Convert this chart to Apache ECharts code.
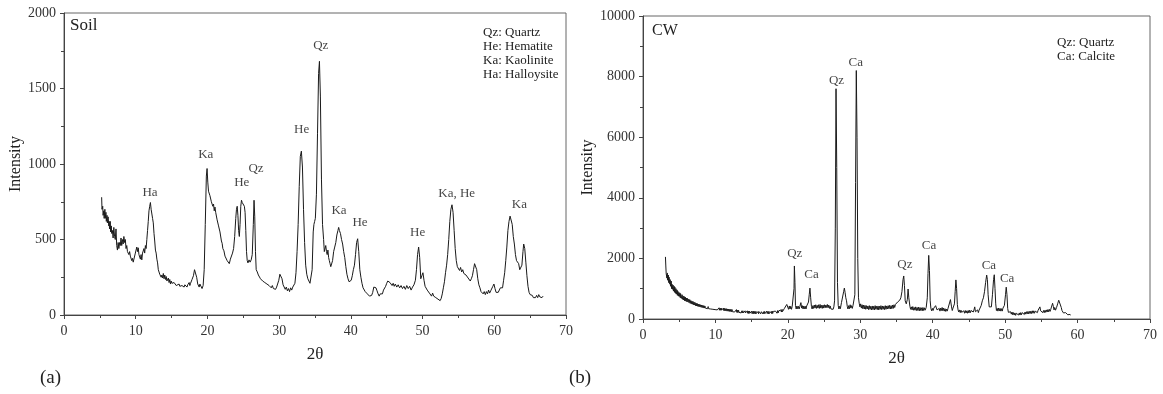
<!DOCTYPE html>
<html>
<head>
<meta charset="utf-8">
<script src="https://cdn.jsdelivr.net/npm/echarts@6/dist/echarts.min.js"></script>
<style>
html,body{margin:0;padding:0;background:#fff;}
#chart{width:1163px;height:394px;}
</style>
</head>
<body>
<div id="chart"></div>
<script>
// ---------- DATA ----------
const xTickLabels = [0,10,20,30,40,50,60,70];

// (a) Soil XRD pattern: [2θ, intensity]
const soilPattern = [
[5.25,780],[5.3,700],[5.4,720],[5.45,660],[5.55,690],[5.6,640],[5.7,700],[5.75,640],[5.85,680],[5.9,620],[6.0,660],[6.05,610],[6.15,650],
[6.25,590],[6.3,620],[6.35,570],[6.45,620],[6.5,550],[6.6,590],[6.65,540],[6.75,560],[6.85,510],[6.95,580],[7.05,520],[7.15,500],
[7.25,570],[7.35,460],[7.45,430],[7.55,480],[7.65,440],[7.75,480],[7.85,460],[7.95,510],[8.05,460],[8.15,500],
[8.25,470],[8.35,520],[8.45,480],[8.55,500],[8.65,440],[8.75,460],[8.85,420],[8.95,430],[9.05,400],[9.15,420],
[9.25,390],[9.35,400],[9.45,360],[9.55,375],[9.65,350],[9.75,370],[9.85,380],[9.95,410],[10.05,420],[10.15,450],
[10.25,420],[10.35,445],[10.45,400],[10.55,410],[10.65,370],[10.75,400],[10.85,365],[10.95,410],[11.05,420],[11.15,440],
[11.25,410],[11.35,460],[11.45,440],[11.55,500],[11.65,560],[11.75,620],[11.85,690],[11.95,720],[12.05,745],[12.15,700],
[12.25,690],[12.35,640],[12.45,610],[12.55,540],[12.65,490],[12.75,430],[12.85,410],[12.95,370],[13.05,345],[13.15,300],
[13.25,290],[13.35,270],[13.45,280],[13.55,250],[13.65,265],[13.75,245],[13.85,275],[13.95,240],[14.05,265],[14.15,235],
[14.25,255],[14.35,225],[14.45,230],[14.55,245],[14.65,215],[14.75,235],[14.85,205],[14.95,225],[15.05,210],[15.15,215],[15.25,200],
[15.35,215],[15.45,205],[15.55,210],[15.65,195],[15.75,205],[15.85,190],[16.05,205],[16.15,190],[16.25,200],[16.35,185],[16.45,195],[16.55,190],[16.65,205],[16.75,185],[16.85,200],[16.95,190],[17.05,210],[17.15,185],[17.25,200],
[17.35,190],[17.45,215],[17.55,195],[17.65,210],[17.75,200],[17.85,235],[18.05,260],[18.2,300],[18.35,310],[18.5,250],[18.65,205],[18.75,215],[18.85,185],[18.95,205],[19.05,195],
[19.15,215],[19.25,175],[19.4,195],[19.55,300],[19.7,600],[19.85,920],[19.95,970],[20.05,880],[20.15,820],[20.25,830],[20.35,790],
[20.45,780],[20.55,750],[20.65,760],[20.75,720],[20.85,735],[20.95,690],[21.05,715],[21.15,680],[21.25,675],[21.35,630],
[21.45,625],[21.55,590],[21.65,585],[21.75,550],[21.85,540],[21.95,490],[22.05,475],[22.15,440],[22.3,425],[22.45,390],
[22.6,385],[22.75,360],[22.9,370],[23.05,340],[23.2,370],[23.35,375],[23.5,410],[23.65,440],[23.8,520],[23.95,640],
[24.05,700],[24.15,720],[24.25,660],[24.35,560],[24.45,520],[24.55,600],[24.65,720],[24.75,760],[24.85,745],[24.95,750],
[25.05,735],[25.15,720],[25.25,680],[25.35,560],[25.45,420],[25.55,360],[25.65,345],[25.8,365],[25.95,350],[26.1,365],
[26.25,400],[26.4,600],[26.5,760],[26.6,650],[26.7,420],[26.8,300],[26.95,285],[27.1,265],[27.25,255],[27.4,240],
[27.55,245],[27.7,225],[27.85,230],[28.0,215],[28.15,220],[28.3,205],[28.45,210],[28.6,195],[28.75,200],[28.9,180],
[29.05,195],[29.2,175],[29.35,185],[29.5,170],[29.65,185],[29.8,195],[29.95,230],[30.1,270],[30.25,280],[30.4,240],
[30.55,200],[30.7,195],[30.85,170],[31.0,185],[31.15,160],[31.3,175],[31.45,155],[31.6,180],[31.75,165],[31.9,185],
[32.05,190],[32.2,210],[32.35,280],[32.5,420],[32.65,600],[32.8,850],[32.95,1050],[33.1,1085],[33.25,980],[33.4,700],
[33.55,480],[33.7,330],[33.85,270],[34.0,240],[34.15,230],[34.3,210],[34.45,220],[34.6,300],[34.75,550],[34.85,600],
[34.95,620],[35.05,640],[35.2,800],[35.35,1200],[35.5,1600],[35.62,1680],[35.75,1450],[35.9,900],[36.05,600],[36.2,500],
[36.3,420],[36.4,410],[36.5,460],[36.6,420],[36.7,400],[36.8,430],[36.9,380],[37.0,360],[37.1,340],[37.2,320],
[37.3,330],[37.45,360],[37.6,420],[37.75,450],[37.9,480],[38.05,530],[38.2,560],[38.3,580],[38.4,560],[38.55,540],
[38.7,500],[38.85,470],[39.0,420],[39.15,380],[39.3,320],[39.45,270],[39.6,240],[39.75,220],[39.9,215],[40.05,230],
[40.2,260],[40.35,300],[40.5,330],[40.65,400],[40.8,480],[40.95,505],[41.1,420],[41.25,300],[41.4,250],[41.55,210],
[41.7,180],[41.85,170],[42.0,155],[42.15,165],[42.3,140],[42.45,145],[42.6,125],[42.75,135],[42.9,130],[43.05,150],
[43.2,185],[43.35,195],[43.5,180],[43.65,160],[43.8,140],[43.95,125],[44.1,140],[44.25,150],[44.4,140],[44.55,165],
[44.7,170],[44.85,190],[45.0,210],[45.15,225],[45.3,230],[45.45,215],[45.6,220],[45.75,195],[45.9,210],[46.05,190],
[46.2,205],[46.4,185],[46.6,200],[46.8,180],[47.0,195],[47.2,175],[47.4,190],[47.6,170],[47.8,195],[48.0,175],
[48.2,190],[48.4,165],[48.6,185],[48.8,200],[49.0,230],[49.15,300],[49.3,400],[49.45,450],[49.6,380],[49.75,240],
[49.9,260],[50.05,280],[50.2,230],[50.35,190],[50.5,180],[50.65,165],[50.8,160],[50.95,145],[51.1,150],[51.25,125],
[51.4,145],[51.55,125],[51.7,130],[51.85,115],[52.0,120],[52.15,105],[52.3,115],[52.45,95],[52.6,110],[52.75,140],
[52.9,180],[53.05,220],[53.2,280],[53.35,330],[53.5,400],[53.65,500],[53.8,620],[53.95,700],[54.1,730],[54.25,680],
[54.4,560],[54.55,440],[54.7,360],[54.85,320],[55.0,310],[55.15,295],[55.3,315],[55.45,285],[55.6,300],[55.75,275],
[55.9,280],[56.05,265],[56.2,275],[56.35,245],[56.5,250],[56.65,225],[56.8,240],[56.95,260],[57.1,300],[57.25,340],
[57.4,345],[57.55,300],[57.7,240],[57.85,200],[58.0,180],[58.15,155],[58.3,160],[58.45,140],[58.6,155],[58.75,135],
[58.9,155],[59.05,140],[59.2,165],[59.35,145],[59.5,160],[59.65,170],[59.8,190],[59.95,205],[60.1,175],[60.25,150],
[60.4,140],[60.55,150],[60.7,160],[60.85,180],[61.0,190],[61.15,180],[61.3,230],[61.45,280],[61.6,360],[61.75,450],
[61.9,560],[62.05,620],[62.2,655],[62.35,650],[62.5,600],[62.65,520],[62.8,470],[62.95,400],[63.1,360],[63.25,350],
[63.4,340],[63.55,300],[63.7,290],[63.85,330],[64.0,420],[64.1,470],[64.25,440],[64.4,350],[64.55,260],[64.7,190],
[64.85,150],[65.0,135],[65.15,125],[65.3,130],[65.45,115],[65.6,125],[65.75,115],[65.9,130],[66.05,115],[66.2,135],
[66.35,120],[66.5,130],[66.65,115],[66.8,125]
];

// (b) CW XRD pattern: [2θ, intensity]
const cwPattern = [
[3.1,2050],[3.15,1750],[3.2,1500],[3.3,1350],[3.35,1520],[3.4,1280],[3.5,1450],[3.55,1200],[3.6,1380],[3.7,1150],[3.75,1300],[3.8,1080],[3.9,1250],[3.95,1000],[4.0,1150],
[4.1,980],[4.15,1120],[4.2,920],[4.3,1080],[4.35,880],[4.4,1050],[4.5,850],[4.55,1000],[4.6,820],[4.7,960],[4.75,780],[4.8,920],[4.9,760],[4.95,880],[5.0,740],
[5.1,860],[5.15,700],[5.2,830],[5.3,680],[5.4,800],[5.45,650],[5.55,760],[5.6,630],[5.7,740],[5.75,600],[5.85,720],[5.9,590],[6.0,690],[6.05,570],[6.15,680],[6.2,560],[6.3,650],[6.35,540],
[6.45,640],[6.5,520],[6.6,610],[6.65,500],[6.75,590],[6.8,490],[6.9,580],[6.95,470],[7.05,560],[7.1,460],[7.2,540],[7.25,440],[7.35,520],[7.4,430],[7.5,510],[7.55,420],[7.65,490],[7.7,410],[7.8,480],[7.85,400],
[7.95,470],[8.0,390],[8.1,460],[8.15,380],[8.25,450],[8.3,370],[8.4,440],[8.45,360],[8.55,430],[8.6,360],[8.7,420],[8.75,350],[8.85,420],[8.9,340],[9.0,410],[9.05,340],[9.15,400],[9.2,330],[9.3,400],[9.35,330],
[9.45,390],[9.5,320],[9.6,390],[9.65,320],[9.75,380],[9.8,310],[9.9,380],[9.95,310],[10.05,370],[10.1,300],[10.2,370],[10.25,300],[10.35,360],[10.4,300],[10.5,370],[10.55,290],[10.65,360],[10.7,290],[10.8,360],[10.85,290],
[10.95,350],[11.0,280],[11.1,360],[11.15,280],[11.25,350],[11.3,270],[11.4,340],[11.45,270],[11.55,340],[11.6,260],[11.7,330],[11.75,260],[11.85,330],[11.9,250],[12.0,320],[12.05,250],[12.15,320],[12.2,240],[12.3,310],[12.35,240],
[12.45,300],[12.5,230],[12.6,300],[12.65,230],[12.75,290],[12.8,220],[12.9,310],[12.95,220],[13.05,290],[13.1,210],[13.2,290],[13.25,220],[13.35,280],[13.4,210],[13.5,280],[13.55,200],[13.65,270],[13.7,200],[13.8,270],[13.85,200],
[13.95,260],[14.0,190],[14.1,270],[14.15,200],[14.25,260],[14.3,190],[14.4,270],[14.45,190],[14.55,260],[14.6,180],[14.7,260],[14.75,190],[14.85,250],[14.9,180],[15.0,260],[15.05,180],[15.15,250],[15.2,170],[15.3,260],[15.35,180],
[15.45,250],[15.5,170],[15.6,250],[15.65,180],[15.75,240],[15.8,170],[15.9,250],[15.95,170],[16.05,240],[16.1,180],[16.2,250],[16.25,170],[16.35,240],[16.4,180],[16.5,250],[16.55,170],[16.65,240],[16.7,170],[16.8,250],[16.85,180],
[16.95,240],[17.0,170],[17.1,260],[17.15,180],[17.25,250],[17.3,170],[17.4,250],[17.45,180],[17.55,240],[17.6,170],[17.7,250],[17.75,180],[17.85,260],[17.9,180],[18.0,250],[18.05,190],[18.15,270],[18.2,190],[18.3,260],[18.35,200],
[18.45,270],[18.5,190],[18.6,280],[18.65,200],[18.75,270],[18.8,210],[18.9,290],[18.95,220],[19.05,300],[19.1,230],[19.2,320],[19.25,240],[19.35,300],[19.4,250],[19.5,340],[19.55,280],[19.7,400],[19.85,480],
[20.0,440],[20.1,320],[20.2,430],[20.3,330],[20.4,420],[20.5,320],[20.6,410],[20.75,450],[20.85,1000],[20.9,1750],[20.98,1200],[21.05,450],
[21.15,330],[21.25,430],[21.35,340],[21.45,420],[21.55,330],[21.65,410],[21.8,540],[21.9,360],[22.0,440],[22.1,330],[22.2,430],[22.3,340],[22.4,420],[22.5,330],[22.6,430],
[22.7,450],[22.85,560],[22.95,800],[23.05,1020],[23.15,700],[23.25,420],[23.35,330],[23.45,440],[23.55,350],[23.65,460],[23.75,360],[23.85,470],[23.95,350],
[24.05,450],[24.15,360],[24.25,470],[24.35,350],[24.45,480],[24.55,360],[24.65,450],[24.75,350],[24.85,460],[24.95,360],[25.05,470],[25.15,370],[25.25,460],[25.35,380],[25.45,480],
[25.55,370],[25.65,460],[25.75,350],[25.85,430],[25.95,330],[26.1,380],[26.25,320],[26.35,400],[26.45,600],[26.55,3000],[26.65,7600],[26.75,5000],
[26.85,1200],[26.95,450],[27.05,330],[27.15,420],[27.25,340],[27.4,540],[27.55,600],[27.7,900],[27.8,1020],[27.9,880],[28.0,700],
[28.1,600],[28.2,420],[28.3,330],[28.4,440],[28.5,340],[28.6,470],[28.7,360],[28.8,440],[28.9,350],[29.0,450],[29.1,480],[29.25,800],[29.35,4500],
[29.45,8200],[29.55,6000],[29.65,2000],[29.75,700],[29.85,520],[29.95,400],[30.05,500],[30.15,360],[30.25,470],[30.35,340],[30.45,460],[30.55,330],[30.65,450],
[30.75,320],[30.85,440],[30.95,330],[31.05,430],[31.15,310],[31.25,440],[31.35,320],[31.45,420],[31.55,300],[31.65,430],[31.75,310],[31.85,420],[31.95,300],[32.05,440],[32.15,320],
[32.25,420],[32.35,310],[32.45,430],[32.55,300],[32.65,420],[32.75,320],[32.85,440],[32.95,310],[33.05,430],[33.15,320],[33.25,420],[33.35,310],[33.45,440],[33.55,320],[33.65,430],
[33.75,330],[33.85,440],[33.95,340],[34.05,450],[34.15,330],[34.25,440],[34.35,340],[34.45,460],[34.55,350],[34.65,470],[34.75,380],[34.85,480],[35.0,500],[35.15,560],
[35.3,540],[35.45,620],[35.6,700],[35.75,900],[35.9,1300],[36.0,1420],[36.1,1100],[36.2,600],[36.35,500],[36.5,650],
[36.6,990],[36.7,700],[36.85,420],[36.95,320],[37.05,400],[37.15,300],[37.25,410],[37.35,290],[37.45,380],[37.55,290],[37.65,400],[37.75,280],[37.85,380],[37.95,280],
[38.05,390],[38.15,270],[38.25,380],[38.35,280],[38.45,370],[38.55,270],[38.65,380],[38.75,280],[38.85,370],[38.95,290],[39.1,380],[39.25,700],[39.35,1500],
[39.45,2100],[39.55,1600],[39.65,600],[39.75,350],[39.85,270],[39.95,350],[40.05,280],[40.15,360],[40.3,330],[40.4,440],[40.5,450],[40.6,300],[40.7,360],
[40.8,270],[40.9,350],[41.0,260],[41.1,360],[41.2,280],[41.3,380],[41.4,270],[41.5,360],[41.6,260],[41.7,340],[41.8,250],[41.9,330],[42.0,260],[42.1,340],[42.2,300],
[42.3,360],[42.45,640],[42.6,400],[42.7,280],[42.8,360],[42.9,350],[43.0,500],[43.1,900],[43.2,1290],[43.3,1000],[43.4,480],
[43.5,300],[43.6,230],[43.7,300],[43.8,210],[43.9,290],[44.0,220],[44.1,280],[44.2,190],[44.3,270],[44.4,190],[44.5,280],[44.6,200],[44.7,270],[44.8,190],[44.9,280],
[45.0,200],[45.1,290],[45.2,210],[45.3,280],[45.4,220],[45.5,300],[45.6,230],[45.7,300],[45.8,400],[45.9,240],[46.0,300],[46.1,220],[46.2,300],[46.3,210],[46.4,290],
[46.55,300],[46.7,450],[46.85,600],[47.0,700],[47.15,900],[47.3,1200],[47.45,1450],[47.55,1300],[47.65,800],[47.8,400],
[47.95,360],[48.1,400],[48.25,800],[48.4,1300],[48.5,1460],[48.6,1000],[48.7,500],[48.8,280],[48.9,350],[49.0,260],[49.1,360],
[49.2,270],[49.3,350],[49.4,260],[49.5,340],[49.6,260],[49.7,360],[49.8,330],[49.9,450],[50.05,800],[50.15,1050],[50.25,800],[50.35,350],[50.45,220],[50.55,280],
[50.65,180],[50.75,240],[50.85,160],[50.95,230],[51.05,140],[51.15,210],[51.25,130],[51.35,200],[51.45,120],[51.55,190],[51.65,130],[51.75,190],[51.85,130],[51.95,200],[52.05,130],
[52.15,210],[52.25,140],[52.35,210],[52.45,150],[52.55,220],[52.65,150],[52.75,230],[52.85,160],[52.95,240],[53.05,170],[53.15,250],[53.25,170],[53.35,250],[53.45,180],[53.55,260],
[53.65,180],[53.75,270],[53.85,190],[53.95,270],[54.05,190],[54.15,260],[54.25,200],[54.35,280],[54.45,210],[54.55,290],[54.65,230],[54.8,400],[54.9,270],
[55.0,220],[55.1,290],[55.2,210],[55.3,280],[55.4,210],[55.5,290],[55.6,220],[55.7,300],[55.8,230],[55.9,310],[56.0,240],[56.1,320],[56.2,250],[56.3,320],[56.4,330],
[56.55,520],[56.65,420],[56.75,300],[56.85,380],[56.95,290],[57.1,380],[57.25,500],[57.4,620],[57.5,660],[57.6,560],[57.75,380],
[57.85,280],[57.95,250],[58.05,200],[58.15,240],[58.25,170],[58.35,210],[58.45,150],[58.55,190],[58.65,140],[58.75,170],[58.85,120],[58.95,150],[59.05,130]
];

// Peak annotations: [label, 2θ, intensity]
const soilPeaks = [
['Ha',12.0,812],['Ka',19.76,1060],['He',24.78,876],['Qz',26.77,971],['He',33.14,1225],
['Qz',35.8,1781],['Ka',38.35,691],['He',41.28,611],['He',49.32,545],['Ka, He',54.76,806],['Ka',63.5,733]
];
const cwPeaks = [
['Qz',20.95,2148],['Ca',23.26,1457],['Qz',26.71,7872],['Ca',29.38,8474],['Qz',36.15,1786],
['Ca',39.5,2421],['Ca',47.75,1753],['Ca',50.28,1326]
];

const soilTitle = 'Soil';
const cwTitle = 'CW';
const soilLegend = ['Qz: Quartz','He: Hematite','Ka: Kaolinite','Ha: Halloysite'];
const cwLegend = ['Qz: Quartz','Ca: Calcite'];
const panelTags = ['(a)','(b)'];

// ---------- CHART ----------
const FONT = '"Liberation Serif","Times New Roman",serif';
const TXT = '#222';
const chart = echarts.init(document.getElementById('chart'), null, {renderer:'canvas'});

function xAxisCfg(gi){
  return {
    gridIndex: gi, type:'value', min:0, max:70, interval:10,
    name:'2θ', nameLocation:'middle', nameGap:31,
    nameTextStyle:{fontFamily:FONT, fontSize:17, color:TXT},
    axisLine:{onZero:false, lineStyle:{color:'#444', width:1}},
    axisTick:{show:true, length:4, lineStyle:{color:'#444'}},
    minorTick:{show:true, splitNumber:2, length:3, lineStyle:{color:'#444'}},
    splitLine:{show:false},
    axisLabel:{fontFamily:FONT, fontSize:14, color:'#333', margin:9,
      formatter: v => xTickLabels.includes(v) ? String(v) : ''}
  };
}
function yAxisCfg(gi, max, interval, gap){
  return {
    gridIndex: gi, type:'value', min:0, max:max, interval:interval,
    name:'Intensity', nameLocation:'middle', nameGap:gap,
    nameTextStyle:{fontFamily:FONT, fontSize:16, color:TXT},
    axisLine:{show:true, lineStyle:{color:'#444', width:1}},
    axisTick:{show:true, length:4, lineStyle:{color:'#444'}},
    minorTick:{show:true, splitNumber:2, length:3, lineStyle:{color:'#444'}},
    splitLine:{show:false},
    axisLabel:{fontFamily:FONT, fontSize:14, color:'#333', margin:8, formatter: v => String(v)}
  };
}
function peakSeries(gi, peaks){
  return {
    type:'scatter', xAxisIndex:gi, yAxisIndex:gi, silent:true, symbolSize:0,
    data: peaks.map(p => ({name:p[0], value:[p[1], p[2]]})),
    label:{show:true, position:'inside', formatter:'{b}', fontFamily:FONT, fontSize:13, color:'#111'},
    z:5
  };
}
function lineSeries(gi, data){
  return {
    type:'line', xAxisIndex:gi, yAxisIndex:gi, data:data, showSymbol:false, symbol:'none',
    lineStyle:{color:'#1a1a1a', width:1}, silent:true
  };
}

const option = {
  animation:false,
  backgroundColor:'#fff',
  grid:[
    {left:64, top:13, width:502, height:302, show:true, borderColor:'#666', borderWidth:1, backgroundColor:'transparent'},
    {left:643, top:16, width:507, height:303, show:true, borderColor:'#666', borderWidth:1, backgroundColor:'transparent'}
  ],
  xAxis:[xAxisCfg(0), xAxisCfg(1)],
  yAxis:[yAxisCfg(0, 2000, 500, 40), yAxisCfg(1, 10000, 2000, 47)],
  series:[
    lineSeries(0, soilPattern), peakSeries(0, soilPeaks),
    lineSeries(1, cwPattern), peakSeries(1, cwPeaks)
  ],
  graphic:[
    {type:'text', left:70, top:17, style:{text:soilTitle, font:'17px '+FONT, fill:TXT}},
    {type:'text', left:483, top:26, style:{text:soilLegend.join('\n'), font:'13px '+FONT, fill:TXT, lineHeight:14}},
    {type:'text', left:652, top:23, style:{text:cwTitle, font:'16px '+FONT, fill:TXT}},
    {type:'text', left:1057, top:36, style:{text:cwLegend.join('\n'), font:'13px '+FONT, fill:TXT, lineHeight:14}},
    {type:'text', left:40, top:369, style:{text:panelTags[0], font:'19px '+FONT, fill:TXT}},
    {type:'text', left:569, top:369, style:{text:panelTags[1], font:'19px '+FONT, fill:TXT}}
  ]
};
chart.setOption(option);
</script>
</body>
</html>
